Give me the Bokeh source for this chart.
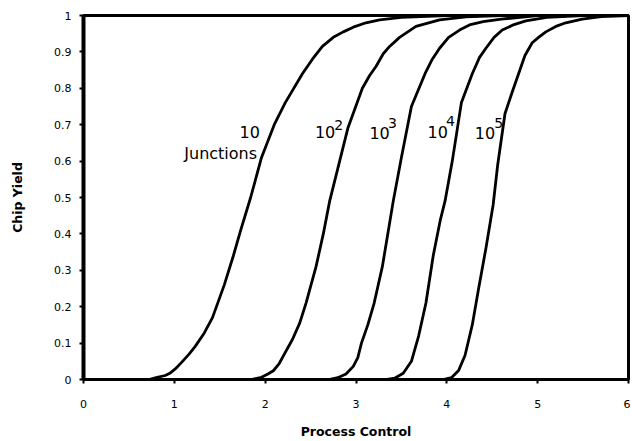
from bokeh.plotting import figure
from bokeh.models import Range1d, FixedTicker, ColumnDataSource
from bokeh.core.properties import value
from bokeh.embed import file_html
from bokeh.resources import INLINE

# ---- data ----
x_ticks = [0, 1, 2, 3, 4, 5, 6]
x_tick_labels = ["0", "1", "2", "3", "4", "5", "6"]
y_ticks = [0, 0.1, 0.2, 0.3, 0.4, 0.5, 0.6, 0.7, 0.8, 0.9, 1.0]
y_tick_labels = ["0", "0.1", "0.2", "0.3", "0.4", "0.5", "0.6", "0.7", "0.8", "0.9", "1"]

x_n10 = [0, 0.72, 0.81, 0.90, 0.95, 1.01, 1.08, 1.16, 1.23, 1.33, 1.42, 1.55, 1.65, 1.73, 1.84, 1.96, 2.10,
         2.22, 2.41, 2.52, 2.63, 2.75, 2.86, 2.97, 3.11, 3.26, 3.5, 4.0, 6.0]
y_n10 = [0, 0.0, 0.006, 0.011, 0.017, 0.029, 0.047, 0.069, 0.091, 0.128, 0.17, 0.26, 0.34, 0.41, 0.50, 0.61, 0.70,
         0.76, 0.84, 0.88, 0.915, 0.94, 0.955, 0.968, 0.98, 0.988, 0.995, 1.0, 1.0]

x_n100 = [0, 1.85, 1.96, 2.03, 2.09, 2.15, 2.22, 2.30, 2.38, 2.45, 2.56, 2.64, 2.71, 2.80, 2.91, 3.07, 3.15,
          3.22, 3.30, 3.37, 3.48, 3.66, 3.92, 4.21, 4.6, 6.0]
y_n100 = [0, 0.0, 0.006, 0.015, 0.024, 0.042, 0.074, 0.11, 0.155, 0.21, 0.31, 0.40, 0.49, 0.58, 0.69, 0.80, 0.835,
          0.86, 0.895, 0.915, 0.94, 0.97, 0.988, 0.996, 1.0, 1.0]

x_n1e3 = [0, 2.70, 2.80, 2.89, 2.97, 3.02, 3.06, 3.13, 3.20, 3.29, 3.35, 3.41, 3.50, 3.61, 3.76, 3.84, 3.92,
          4.02, 4.14, 4.26, 4.40, 4.6, 5.0, 6.0]
y_n1e3 = [0, 0.0, 0.005, 0.015, 0.036, 0.06, 0.10, 0.15, 0.21, 0.31, 0.40, 0.49, 0.61, 0.75, 0.84, 0.88, 0.91,
          0.94, 0.96, 0.975, 0.983, 0.99, 1.0, 1.0]

x_n1e4 = [0, 3.34, 3.43, 3.52, 3.61, 3.69, 3.77, 3.85, 3.93, 3.98, 4.06, 4.16, 4.28, 4.36, 4.43, 4.52,
          4.61, 4.74, 4.87, 5.1, 5.5, 6.0]
y_n1e4 = [0, 0.0, 0.004, 0.017, 0.05, 0.12, 0.21, 0.34, 0.44, 0.49, 0.60, 0.76, 0.84, 0.885, 0.91, 0.94,
          0.96, 0.975, 0.985, 0.995, 1.0, 1.0]

x_n1e5 = [0, 3.96, 4.05, 4.13, 4.20, 4.28, 4.35, 4.43, 4.51, 4.56, 4.64, 4.72, 4.79, 4.86, 4.94, 5.01,
          5.09, 5.20, 5.31, 5.49, 5.7, 6.0]
y_n1e5 = [0, 0.0, 0.005, 0.025, 0.066, 0.15, 0.25, 0.36, 0.48, 0.59, 0.73, 0.79, 0.84, 0.89, 0.925, 0.94,
          0.955, 0.97, 0.98, 0.99, 0.997, 1.0]

label_text = ["10", "Junctions", "10", "10", "10", "10"]
label_x = [1.83, 1.51, 2.66, 3.26, 3.90, 4.42]
label_y = [0.68, 0.62, 0.68, 0.677, 0.68, 0.677]
sup_text = ["2", "3", "4", "5"]
sup_x = [2.81, 3.40, 4.04, 4.57]
sup_y = [0.70, 0.705, 0.709, 0.705]

# ---- figure ----
p = figure(width=630, height=441, x_range=Range1d(0, 6), y_range=Range1d(0, 1),
           output_backend="svg", toolbar_location=None,
           min_border_left=83, min_border_right=2, min_border_top=15, min_border_bottom=60)
p.background_fill_color = "white"
p.border_fill_color = "white"
p.xgrid.visible = False
p.ygrid.visible = False
p.outline_line_color = "black"
p.outline_line_width = 3
p.outline_line_alpha = 1.0

for xs, ys in [(x_n10, y_n10), (x_n100, y_n100), (x_n1e3, y_n1e3), (x_n1e4, y_n1e4), (x_n1e5, y_n1e5)]:
    p.line(xs, ys, line_color="black", line_width=2.8, line_join="round")

src = ColumnDataSource(dict(x=label_x, y=label_y, t=label_text))
p.text(x="x", y="y", text="t", source=src, text_font=value("DejaVu Sans"),
       text_font_size="16px", text_align="center", text_baseline="middle", text_color="black")
src2 = ColumnDataSource(dict(x=sup_x, y=sup_y, t=sup_text))
p.text(x="x", y="y", text="t", source=src2, text_font=value("DejaVu Sans"),
       text_font_size="14px", text_align="center", text_baseline="middle", text_color="black")

# axes
p.xaxis.ticker = FixedTicker(ticks=x_ticks)
p.xaxis.major_label_overrides = {t: l for t, l in zip(x_ticks, x_tick_labels)}
p.yaxis.ticker = FixedTicker(ticks=y_ticks)
p.yaxis.major_label_overrides = {t: l for t, l in zip(y_ticks, y_tick_labels)}
for ax in (p.xaxis, p.yaxis):
    ax.minor_tick_line_color = None
    ax.major_tick_in = 0
    ax.major_tick_out = 4
    ax.major_tick_line_width = 2
    ax.major_tick_line_color = "black"
    ax.axis_line_color = "black"
    ax.major_label_text_font = "DejaVu Sans"
    ax.major_label_text_font_size = "11px"
    ax.major_label_text_color = "black"
    ax.axis_label_text_font = "DejaVu Sans"
    ax.axis_label_text_font_style = "bold"
    ax.axis_label_text_font_size = "12.5px"
    ax.axis_label_text_color = "black"
p.yaxis.axis_line_width = 4
p.xaxis.axis_line_width = 3
p.xaxis.axis_label = "Process Control"
p.yaxis.axis_label = "Chip Yield"
p.yaxis.major_label_standoff = 8
p.xaxis.major_label_standoff = 16
p.yaxis.axis_label_standoff = 26
p.xaxis.axis_label_standoff = 13

open("out.html", "w").write(file_html(p, INLINE))
